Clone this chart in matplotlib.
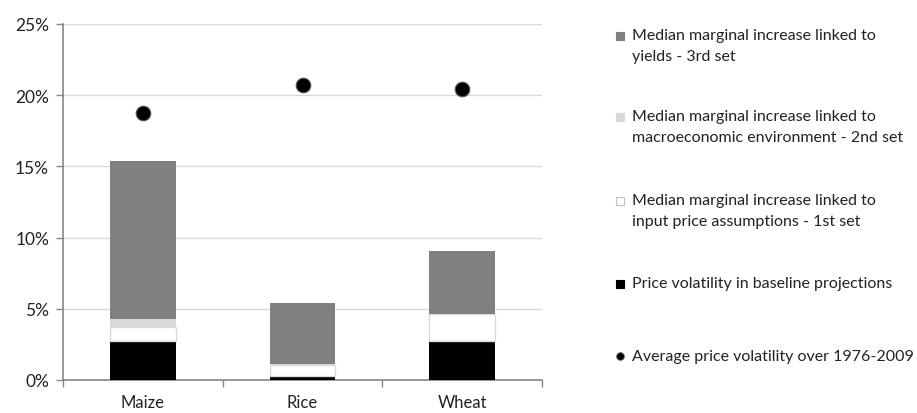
import matplotlib
matplotlib.use("Agg")
import matplotlib.pyplot as plt
from matplotlib.patches import Rectangle
from matplotlib.ticker import FixedLocator, PercentFormatter
import numpy as np

plt.rcParams['font.family'] = ['Lato', 'DejaVu Sans']

# Data (percent)
crops = ["Maize", "Rice", "Wheat"]
baseline = [2.75, 0.30, 2.75]          # Price volatility in baseline projections
input_price = [1.00, 0.75, 1.85]       # 1st set
macro = [0.50, 0.05, 0.02]             # 2nd set
yields = [11.15, 4.30, 4.42]           # 3rd set
historical = [18.73, 20.74, 20.44]     # Average 1976-2009

yticks = [0, 5, 10, 15, 20, 25]

series = [
    (baseline, "#000000", "none", "Price volatility in baseline projections"),
    (input_price, "#ffffff", "#d9d9d9", "Median marginal increase linked to\ninput price assumptions - 1st set"),
    (macro, "#d9d9d9", "none", "Median marginal increase linked to\nmacroeconomic environment - 2nd set"),
    (yields, "#808080", "none", "Median marginal increase linked to\nyields - 3rd set"),
]

W, H = 917, 414
fig = plt.figure(figsize=(W / 100, H / 100), dpi=100)
ax = fig.add_axes([63 / W, 33 / H, 479 / W, 356 / H])

x = np.arange(len(crops))
bottom = np.zeros(len(crops))
for vals, fc, ec, lab in series:
    v = np.array(vals)
    ax.bar(x, v, width=0.41, bottom=bottom, color=fc, edgecolor=ec,
           linewidth=1.0, zorder=3)
    bottom += v

ax.scatter(x, historical, s=110, color="black", edgecolor="#555555",
           linewidth=0.8, zorder=4)

ax.set_xlim(-0.5, len(crops) - 0.5)
ax.set_ylim(0, 25)
ax.set_yticks(yticks)
ax.yaxis.set_major_formatter(PercentFormatter(decimals=0))
ax.grid(axis="y", color="#d9d9d9", linewidth=1.0, zorder=0)
ax.set_axisbelow(True)

ax.set_xticks(x)
ax.set_xticklabels(crops)
ax.xaxis.set_minor_locator(FixedLocator(np.arange(len(crops) + 1) - 0.5))
ax.tick_params(axis="x", which="major", length=0, pad=10, labelsize=12, labelcolor="#222222")
ax.tick_params(axis="x", which="minor", length=5, color="#868686", width=1)
ax.tick_params(axis="y", length=5, color="#868686", width=1, pad=5, labelsize=12.5, labelcolor="#222222")

for s in ["top", "right"]:
    ax.spines[s].set_visible(False)
for s in ["left", "bottom"]:
    ax.spines[s].set_color("#868686")
    ax.spines[s].set_linewidth(1.2)

# Legend drawn in figure pixel coordinates
lax = fig.add_axes([0, 0, 1, 1])
lax.set_xlim(0, W)
lax.set_ylim(H, 0)
lax.axis("off")

legend_rows = [
    (series[3], 37),
    (series[2], 118),
    (series[1], 202),
    (series[0], 285),
]
for (vals, fc, ec, lab), y in legend_rows:
    edge = "#bfbfbf" if fc == "#ffffff" else fc
    lax.add_patch(Rectangle((616, y - 4), 8, 8, facecolor=fc, edgecolor=edge, linewidth=0.8))
    lax.text(632, y - 8, lab, fontsize=11.5, color="#222222", va="top", ha="left",
             linespacing=1.6)

lax.scatter([620], [357], s=30, color="black", edgecolor="#555555", linewidth=0.6)
lax.text(632, 357, "Average price volatility over 1976-2009", fontsize=11.5,
         color="#222222", va="center", ha="left")

fig.savefig("out.png", dpi=100)
